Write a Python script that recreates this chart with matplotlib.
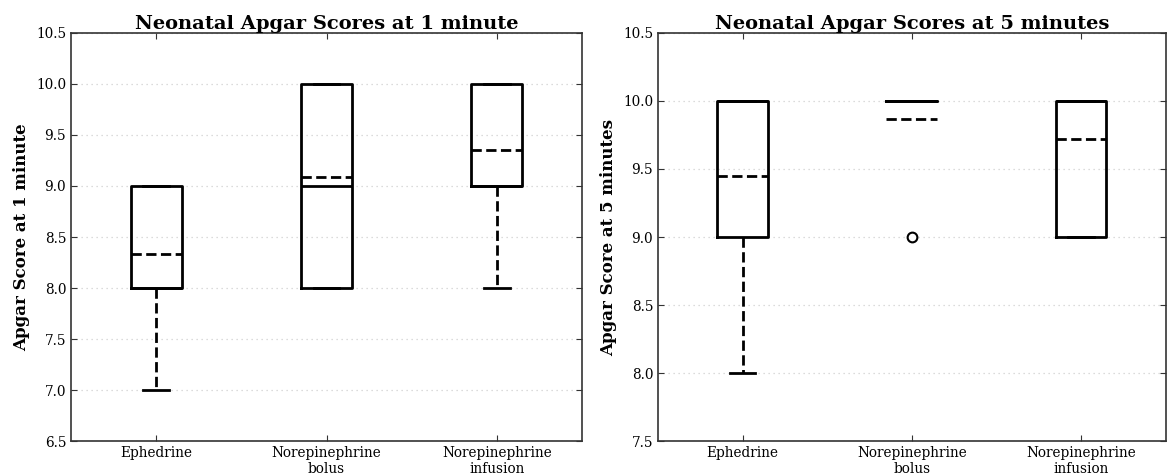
import matplotlib
matplotlib.use('Agg')
import matplotlib.pyplot as plt

plt.rcParams['font.family'] = 'DejaVu Serif'

groups = ['Ephedrine', 'Norepinephrine\nbolus', 'Norepinephrine\ninfusion']

# 1 minute scores (box stats)
q1_1min = [8, 8, 9]
med_1min = [8, 9, 9]
q3_1min = [9, 10, 10]
lo_1min = [7, 8, 8]
hi_1min = [9, 10, 10]
mean_1min = [8.33, 9.09, 9.35]
fliers_1min = [[], [], []]

# 5 minute scores
q1_5min = [9, 10, 9]
med_5min = [10, 10, 10]
q3_5min = [10, 10, 10]
lo_5min = [8, 10, 9]
hi_5min = [10, 10, 10]
mean_5min = [9.45, 9.87, 9.72]
fliers_5min = [[], [9], []]


def make_stats(q1, med, q3, lo, hi, mean, fliers):
    stats = []
    for i in range(len(groups)):
        stats.append(dict(q1=q1[i], med=med[i], q3=q3[i], whislo=lo[i],
                          whishi=hi[i], mean=mean[i], fliers=fliers[i],
                          label=groups[i]))
    return stats


def draw(ax, stats, title, ylabel, ylim):
    ax.bxp(stats, widths=0.3, showmeans=True, meanline=True,
           boxprops=dict(color='black', linewidth=2),
           medianprops=dict(color='black', linewidth=2),
           meanprops=dict(color='black', linewidth=2, linestyle='--'),
           whiskerprops=dict(color='black', linewidth=2, linestyle='--'),
           capprops=dict(color='black', linewidth=2),
           flierprops=dict(marker='o', markerfacecolor='white',
                           markeredgecolor='black', markersize=7,
                           markeredgewidth=1.5))
    ax.set_title(title, fontsize=14, fontweight='bold', pad=3)
    ax.set_ylabel(ylabel, fontsize=12, fontweight='bold')
    ax.set_ylim(*ylim)
    ax.set_xlim(0.5, 3.5)
    ax.yaxis.grid(True, linestyle=(0, (1, 3)), color='#d0d0d0', linewidth=0.9)
    ax.set_axisbelow(True)
    ax.tick_params(direction='in', top=True, right=True, labelsize=9.8,
                   length=4, color='#333333')
    for s in ax.spines.values():
        s.set_color('#333333')
        s.set_linewidth(1.2)


fig = plt.figure(figsize=(11.68, 4.76), dpi=100)
ax1 = fig.add_axes([0.0608, 0.0735, 0.4375, 0.8572])
ax2 = fig.add_axes([0.5634, 0.0735, 0.4346, 0.8572])

draw(ax1, make_stats(q1_1min, med_1min, q3_1min, lo_1min, hi_1min, mean_1min, fliers_1min),
     'Neonatal Apgar Scores at 1 minute', 'Apgar Score at 1 minute', (6.5, 10.5))
draw(ax2, make_stats(q1_5min, med_5min, q3_5min, lo_5min, hi_5min, mean_5min, fliers_5min),
     'Neonatal Apgar Scores at 5 minutes', 'Apgar Score at 5 minutes', (7.5, 10.5))

fig.savefig('out.png', dpi=100)
